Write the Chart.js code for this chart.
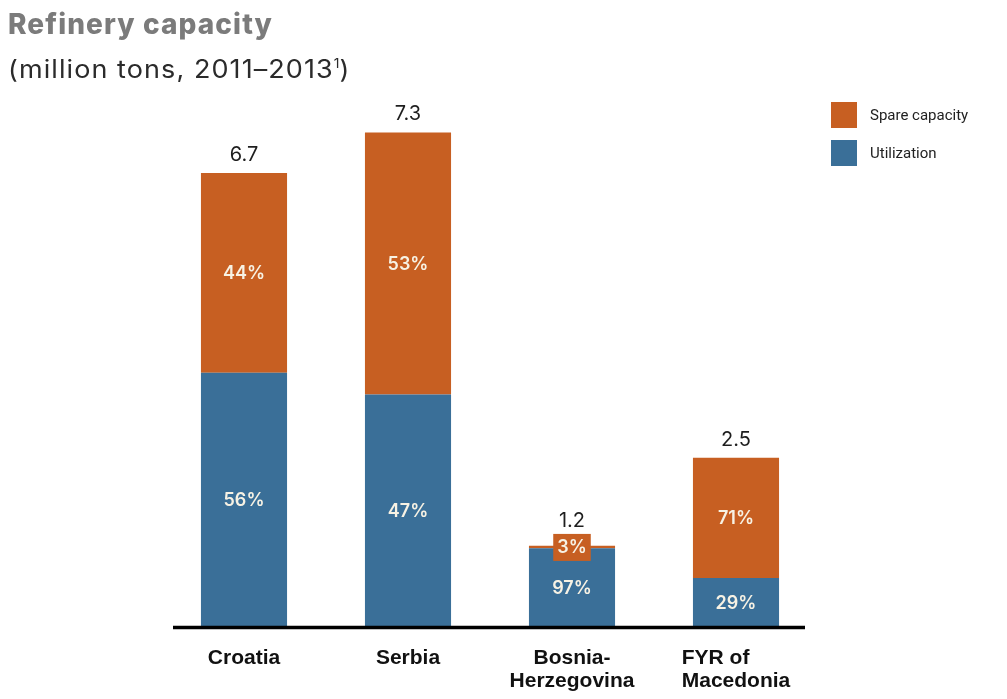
<!DOCTYPE html>
<html>
<head>
<meta charset="utf-8">
<script src="https://cdn.jsdelivr.net/npm/chart.js@4.4.1/dist/chart.umd.min.js"></script>
<style>
  html, body { margin: 0; padding: 0; background: #ffffff; }
  #wrap { position: relative; width: 1007px; height: 699px; overflow: hidden; }
  #chart { position: absolute; left: 0; top: 0; }
  .title { position: absolute; left: 8px; top: 7px; font-family: "Inter", sans-serif; font-weight: 800; font-size: 28px; color: #7b7b7b; letter-spacing: 1.1px; }
  .subtitle { position: absolute; left: 8px; top: 54px; font-family: "Inter", sans-serif; font-size: 25px; color: #2b2b2b; letter-spacing: 1px; transform: scaleX(1.08); transform-origin: left top; white-space: nowrap; }
  .subtitle sup { font-size: 13px; vertical-align: 10px; line-height: 0; letter-spacing: 0; }
  .legend { position: absolute; left: 831px; top: 102px; font-family: "Roboto", sans-serif; font-size: 15px; color: #222; }
  .legend .item { display: flex; align-items: center; height: 26px; margin-bottom: 12px; }
  .legend .swatch { width: 26px; height: 26px; margin-right: 13px; }
</style>
</head>
<body>
<div id="wrap">
  <canvas id="chart" width="1007" height="699"></canvas>
  <div class="title">Refinery capacity</div>
  <div class="subtitle">(million tons, 2011–2013<sup>1</sup>)</div>
  <div class="legend" id="legend"></div>
</div>
<script>
// Refinery capacity by country, million tons, with utilization / spare split in percent
const countries = ['Croatia', 'Serbia', ['Bosnia-', 'Herzegovina'], ['FYR of       ', 'Macedonia']];
const totalCapacity = [6.7, 7.3, 1.2, 2.5];
const utilizationPct = [56, 47, 97, 29];
const sparePct = [44, 53, 3, 71];

const BLUE = '#3a6f98';
const ORANGE = '#c75f22';

const utilization = totalCapacity.map((t, i) => t * utilizationPct[i] / 100);
const spare = totalCapacity.map((t, i) => t * sparePct[i] / 100);

// Percent labels inside each segment plus the total above each bar
const barLabels = {
  id: 'barLabels',
  afterDatasetsDraw(chart) {
    const ctx = chart.ctx;
    ctx.save();
    ctx.textAlign = 'center';
    ctx.textBaseline = 'middle';
    const labelTop = [];
    chart.data.datasets.forEach((ds, di) => {
      const meta = chart.getDatasetMeta(di);
      meta.data.forEach((bar, i) => {
        const pct = ds.pct[i];
        const cy = (bar.y + bar.base) / 2;
        const h = Math.abs(bar.base - bar.y);
        ctx.font = '600 18px "Inter", sans-serif';
        const text = pct + '%';
        if (h < 20) {
          // thin segment: give the label a tag in the segment colour
          const w = ctx.measureText(text).width + 8;
          ctx.fillStyle = ds.backgroundColor;
          ctx.fillRect(bar.x - w / 2, cy - 13, w, 27);
          labelTop[i] = cy - 13;
        }
        ctx.fillStyle = '#f7f2e4';
        ctx.fillText(text, bar.x, cy + 1);
      });
    });
    // totals above the top segment
    const topMeta = chart.getDatasetMeta(chart.data.datasets.length - 1);
    ctx.font = '20px "Inter", sans-serif';
    ctx.fillStyle = '#1e1e1e';
    topMeta.data.forEach((bar, i) => {
      let y = bar.y - 18;
      if (labelTop[i] !== undefined) y = Math.min(y, labelTop[i] - 13);
      ctx.fillText(totalCapacity[i].toFixed(1), bar.x, y);
    });
    // baseline rule
    const area = chart.chartArea;
    ctx.strokeStyle = '#000';
    ctx.lineWidth = 3.5;
    ctx.beginPath();
    ctx.moveTo(area.left + 11, area.bottom + 0.5);
    ctx.lineTo(area.right - 13, area.bottom + 0.5);
    ctx.stroke();
    ctx.restore();
  }
};

const chart = new Chart(document.getElementById('chart'), {
  type: 'bar',
  data: {
    labels: countries,
    datasets: [
      { label: 'Utilization', data: utilization, pct: utilizationPct, backgroundColor: BLUE,
        categoryPercentage: 1, barPercentage: 0.525 },
      { label: 'Spare capacity', data: spare, pct: sparePct, backgroundColor: ORANGE,
        categoryPercentage: 1, barPercentage: 0.525 }
    ]
  },
  options: {
    responsive: false,
    animation: false,
    layout: { padding: { left: 162, right: 189, top: 85, bottom: 0 } },
    plugins: { legend: { display: false }, tooltip: { enabled: false } },
    scales: {
      x: {
        stacked: true,
        grid: { display: false },
        border: { display: false },
        ticks: {
          color: '#111',
          padding: 11,
          font: { family: '"Liberation Sans", Arial, sans-serif', weight: 'bold', size: 21, lineHeight: 1.12 },
          maxRotation: 0, autoSkip: false
        },
        afterFit(scale) { scale.height = 72; }
      },
      y: {
        stacked: true,
        display: false,
        min: 0,
        max: 8
      }
    }
  },
  plugins: [barLabels]
});

// legend: top dataset first
const legendEl = document.getElementById('legend');
[...chart.data.datasets].reverse().forEach(ds => {
  const item = document.createElement('div');
  item.className = 'item';
  const sw = document.createElement('div');
  sw.className = 'swatch';
  sw.style.background = ds.backgroundColor;
  const lab = document.createElement('span');
  lab.textContent = ds.label;
  item.appendChild(sw);
  item.appendChild(lab);
  legendEl.appendChild(item);
});
</script>
</body>
</html>
